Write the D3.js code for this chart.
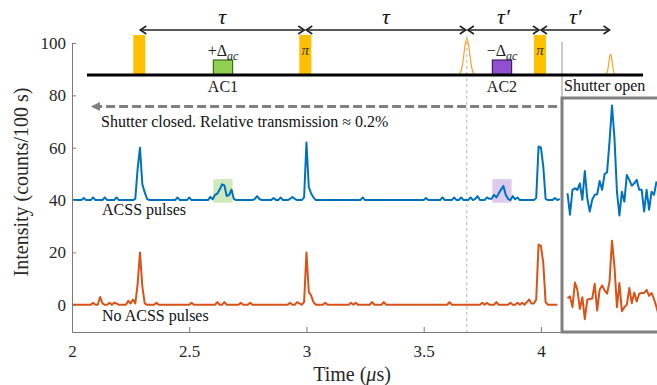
<!DOCTYPE html>
<html>
<head>
<meta charset="utf-8">
<script src="https://cdn.jsdelivr.net/npm/d3@7"></script>
<style>
  body { margin: 0; background: #fff; }
  svg { display: block; }
</style>
</head>
<body>
<svg id="chart"></svg>
<script>
const width = 657;
const height = 385;
const serif = "'Liberation Serif', 'DejaVu Serif', serif";

// main traces: one sample every 10 ns starting at 2 us
const tStart = 2.0;
const tStep = 0.01;

const acssCounts = [
  40, 40, 40, 40, 40, 40.8, 40, 40, 40, 41,
  40, 40, 40, 40, 41, 40, 40, 40, 40, 41,
  40, 40, 40, 40, 40, 40, 40, 40.5, 52, 60,
  46, 43, 40.5, 40, 40, 40, 40, 40, 40, 40,
  40, 40, 40, 40, 40, 41, 40, 40, 40, 40,
  41, 40, 40, 40, 40, 40, 40, 40, 40, 41.2,
  40.3, 42, 42.5, 44, 46, 45.6, 41.5, 42, 44, 40.5,
  40, 40, 40, 40, 40, 40, 40, 40, 40.5, 41.5,
  40.3, 40, 40, 40, 40, 40, 40.8, 40, 40, 41,
  40, 40, 40, 40.5, 41.2, 40.5, 40, 40, 40, 41,
  62, 45, 42.5, 41, 40, 40, 40, 40, 40, 40,
  40, 40, 40, 40, 40, 40, 40, 40, 40, 40,
  40, 40, 40, 40, 41, 40, 40, 40, 40, 40,
  40, 40, 40, 40, 40, 40, 40, 40, 40, 40,
  40, 40, 40, 40, 40, 40, 40, 40, 40, 40,
  40, 40.8, 40, 40, 40, 40, 40, 40, 41, 40,
  40, 40, 40, 41, 40, 40, 41, 40, 40, 40,
  41, 40, 40.5, 41.5, 40, 40, 40, 41, 40.5, 40.5,
  42, 41, 42.5, 44, 45.4, 42, 40.5, 40, 41.5, 40.3,
  41, 40, 40, 40, 40, 40, 40, 40, 40.8, 60.5,
  60, 53, 40.5, 40, 40, 40, 40.8, 40, 40.5
];

const noAcssCounts = [
  0, 0, 0, 0, 0, 0, 0, 0, 0, 0.8,
  0, 0, 3, 0.5, 0, 0, 0.8, 0, 0.8, 0.5,
  0, 0, 0, 0, 1.5, 0.5, 2, 0.5, 8, 20,
  7, 0.5, 0, 0, 0, 0, 0.8, 0, 0, 0,
  0, 0, 0, 0, 0, 0, 0, 0, 0, 0,
  0, 0.8, 0, 0, 0, 0, 0, 0, 0, 0,
  0, 0, 1, 0, 0, 1, 0, 0, 0, 0,
  0, 0, 0.8, 0, 0, 0, 0.8, 0, 0, 0,
  0, 0, 0, 0, 0, 0, 0, 0, 0, 0,
  0, 0, 0, 0.8, 0, 0, 1, 0.5, 0, 1,
  20, 5, 3.5, 1, 0, 0, 0, 0, 0.8, 0,
  0, 0, 0, 0, 0, 0, 0, 0, 0, 0.8,
  0, 0.8, 0, 0, 0, 0, 0, 0, 1, 0,
  0, 0, 0, 1, 0, 0, 0, 0, 0, 0,
  0, 0, 0, 0, 0, 0, 0, 0, 0, 0,
  0, 0, 0, 0, 0, 0, 0, 0, 0, 0,
  0, 1, 0, 0, 0, 0, 0, 0, 0, 0,
  0, 0, 0, 0, 0, 0.8, 0, 0.8, 0, 0,
  0, 1, 0, 0, 0, 0, 0, 0.8, 0, 0,
  0.8, 0, 0.8, 0, 1, 2, 0.5, 0.5, 2, 23,
  22.5, 16, 1, 0, 0, 0, 0, 0
];

// shutter open window (own time base, sample index)
const openAcss = [
  42.6, 34.4, 43.9, 44.5, 43.9, 46.4, 40.1, 51.1, 40.7, 35.6,
  40.1, 42, 42.2, 47.3, 43.9, 49.9, 50.6, 62.3, 76.1, 63.6,
  43.2, 34.1, 43.2, 39.4, 49.6, 47.7, 45.5, 46.4, 47.7, 43.9,
  43.9, 35.6, 43.9, 36.3, 43.2, 42, 47.1
];
const openNoAcss = [
  2.5, 3.2, -0.9, 8.5, 5.7, -1.6, 2.9, -5.5, 1.9, 2.2,
  2.4, 8, -2.2, 5.7, 7.4, 5.5, 4.2, 8.9, 24.5, 14.6,
  -0.9, 8.3, -2.5, -0.9, 0, 6.4, 0.6, 4.7, 1.3, 4.2,
  4.5, 4.5, 5.7, 3.4, 4.5, 2.2, -0.9, -4.5
];

const xTicks = [2, 2.5, 3, 3.5, 4];
const yTicks = [0, 20, 40, 60, 80, 100];

// pulse sequence, times in us
const squarePulseTimes = [2.287, 2.995, 3.996];
const squarePulseLabels = ['', 'π', 'π'];
const acWindowStart = [2.603, 3.793];
const acWindowEnd = [2.685, 3.875];
const acNames = ['AC1', 'AC2'];
const acSigns = ['+', '−'];
const echoTimes = [3.684, 4.297];
const echoHeights = [1, 0.58];
const echoShape = [0, 0.02, 0.08, 0.25, 0.55, 0.85, 1, 0.85, 0.55, 0.25, 0.08, 0.02, 0];
const delayStart = [2.287, 2.995, 3.684, 3.996];
const delayEnd = [2.995, 3.684, 3.996, 4.297];
const delayLabels = ['τ', 'τ', 'τ′', 'τ′'];
const shutterTime = 4.09;

const svg = d3.select('#chart').attr('width', width).attr('height', height)
  .attr('font-family', serif);

const x = d3.scaleLinear().domain([2, shutterTime]).range([72, 562]);
const y = d3.scaleLinear().domain([-10.4, 100]).range([332, 43]);
const xOpen = d3.scaleLinear().domain([0, openAcss.length - 1]).range([567.5, 656.5]);

const blue = '#0072BD';
const red = '#D95319';
const pulseOrange = '#FFC000';

function addHighlights() {
  const hl = svg.append('g').attr('class', 'highlights');
  const fills = ['#cfe9bd', '#dccbef'];
  hl.selectAll('rect')
    .data(acWindowStart)
    .enter()
    .append('rect')
    .attr('x', (d) => x(d))
    .attr('width', (d, i) => x(acWindowEnd[i]) - x(d))
    .attr('y', y(48))
    .attr('height', y(39) - y(48))
    .attr('fill', (d, i) => fills[i]);
}

function addTraces() {
  const line = d3.line()
    .x((d, i) => x(tStart + i * tStep))
    .y((d) => y(d));

  // dashed marker at the echo
  svg.append('line')
    .attr('x1', x(echoTimes[0])).attr('x2', x(echoTimes[0]))
    .attr('y1', 36).attr('y2', y.range()[0])
    .attr('stroke', '#b5b5b5')
    .attr('stroke-width', 1)
    .attr('stroke-dasharray', '3,3');

  svg.append('path').datum(acssCounts)
    .attr('d', line).attr('fill', 'none')
    .attr('stroke', blue).attr('stroke-width', 2).attr('stroke-linejoin', 'round');
  svg.append('path').datum(noAcssCounts)
    .attr('d', line).attr('fill', 'none')
    .attr('stroke', red).attr('stroke-width', 2).attr('stroke-linejoin', 'round');
}

function addAxes() {
  const yAxis = svg.append('g')
    .attr('transform', `translate(${x(2)},0)`)
    .call(d3.axisLeft(y).tickValues(yTicks).tickSize(-4).tickSizeOuter(0).tickPadding(6)
      .tickFormat((d) => String(d)));
  const xAxis = svg.append('g')
    .attr('transform', `translate(0,${y.range()[0]})`)
    .call(d3.axisBottom(x).tickValues(xTicks).tickSize(-5).tickSizeOuter(0).tickPadding(13)
      .tickFormat((d) => String(d)));

  [xAxis, yAxis].forEach((ax) => {
    ax.attr('font-family', serif).attr('font-size', 17);
    ax.select('.domain').attr('stroke', '#7a7a7a');
    ax.selectAll('.tick line').attr('stroke', '#7a7a7a');
    ax.selectAll('.tick text').attr('fill', '#262626');
  });
  xAxis.selectAll('.tick').filter((d) => d === 2).select('line').remove();

  svg.append('text')
    .attr('transform', 'translate(28,182) rotate(-90)')
    .attr('text-anchor', 'middle')
    .attr('font-size', 20)
    .attr('fill', '#262626')
    .text('Intensity (counts/100 s)');

  const xl = svg.append('text')
    .attr('x', 352).attr('y', 381)
    .attr('text-anchor', 'middle')
    .attr('font-size', 20)
    .attr('fill', '#262626');
  xl.append('tspan').text('Time (');
  xl.append('tspan').attr('font-style', 'italic').text('μ');
  xl.append('tspan').text('s)');
}

function addSequence() {
  const seq = svg.append('g').attr('class', 'sequence');
  const baseY = 75;

  // thin orange echoes
  const echoLine = d3.line().x((d) => d[0]).y((d) => d[1]).curve(d3.curveBasis);
  const echoWidths = [0.075, 0.045];
  seq.selectAll('path.echo')
    .data(echoTimes)
    .enter()
    .append('path')
    .attr('class', 'echo')
    .attr('d', (t, k) => {
      const n = echoShape.length - 1;
      const pts = echoShape.map((v, j) => [
        x(t - echoWidths[k] / 2 + (j / n) * echoWidths[k]),
        baseY - 38 * echoHeights[k] * v,
      ]);
      return echoLine(pts);
    })
    .attr('fill', 'none')
    .attr('stroke', '#f4a52a')
    .attr('stroke-width', 1.2);

  // shutter marker
  seq.append('line')
    .attr('x1', x(shutterTime)).attr('x2', x(shutterTime))
    .attr('y1', 42).attr('y2', 98)
    .attr('stroke', '#b8b8b8').attr('stroke-width', 1.5);

  // square pulses
  seq.selectAll('rect.pulse')
    .data(squarePulseTimes)
    .enter()
    .append('rect')
    .attr('class', 'pulse')
    .attr('x', (d) => x(d) - 6)
    .attr('width', 12)
    .attr('y', 35)
    .attr('height', baseY - 35)
    .attr('fill', pulseOrange);
  seq.selectAll('text.pi')
    .data(squarePulseTimes)
    .enter()
    .append('text')
    .attr('x', (d) => x(d))
    .attr('y', 55)
    .attr('text-anchor', 'middle')
    .attr('font-size', 15)
    .attr('font-style', 'italic')
    .attr('fill', '#333')
    .text((d, i) => squarePulseLabels[i]);

  // ac stark windows
  const acFill = ['#92D050', '#9150D0'];
  const acStroke = ['#3d6b22', '#3a2266'];
  seq.selectAll('rect.ac')
    .data(acWindowStart)
    .enter()
    .append('rect')
    .attr('class', 'ac')
    .attr('x', (d) => x(d))
    .attr('width', (d, i) => x(acWindowEnd[i]) - x(d))
    .attr('y', 60)
    .attr('height', baseY - 60)
    .attr('fill', (d, i) => acFill[i])
    .attr('stroke', (d, i) => acStroke[i])
    .attr('stroke-width', 1.2);

  acWindowStart.forEach((t0, i) => {
    const cx = (x(t0) + x(acWindowEnd[i])) / 2;
    const lab = seq.append('text')
      .attr('x', cx).attr('y', 56)
      .attr('text-anchor', 'middle')
      .attr('font-size', 16)
      .attr('fill', '#222');
    lab.append('tspan').text(`${acSigns[i]}Δ`);
    lab.append('tspan').attr('font-style', 'italic').attr('font-size', 12).attr('dy', 4).text('ac');
    seq.append('text')
      .attr('x', cx).attr('y', 92)
      .attr('text-anchor', 'middle')
      .attr('font-size', 16)
      .attr('fill', '#222')
      .text(acNames[i]);
  });

  // baseline
  seq.append('line')
    .attr('x1', 87).attr('x2', 643)
    .attr('y1', baseY).attr('y2', baseY)
    .attr('stroke', '#000').attr('stroke-width', 3);

  // delay arrows
  const arrowY = 30;
  const head = (px, dir) => `M${px + dir * 6},${arrowY - 4}L${px},${arrowY}L${px + dir * 6},${arrowY + 4}`;
  delayStart.forEach((t0, i) => {
    const a = x(t0) + 1;
    const b = x(delayEnd[i]) - 1;
    seq.append('line')
      .attr('x1', a).attr('x2', b).attr('y1', arrowY).attr('y2', arrowY)
      .attr('stroke', '#222').attr('stroke-width', 1.6);
    seq.append('path').attr('d', head(a, 1) + head(b, -1))
      .attr('fill', 'none').attr('stroke', '#222').attr('stroke-width', 1.6);
    seq.append('text')
      .attr('x', (a + b) / 2).attr('y', 24)
      .attr('text-anchor', 'middle')
      .attr('font-size', 22)
      .attr('font-style', 'italic')
      .attr('fill', '#111')
      .text(delayLabels[i]);
  });
}

function addShutter() {
  // closed: dashed arrow across the main window
  const ay = 106.5;
  svg.append('line')
    .attr('x1', x(2.09)).attr('x2', x(shutterTime))
    .attr('y1', ay).attr('y2', ay)
    .attr('stroke', '#808080').attr('stroke-width', 3)
    .attr('stroke-dasharray', '9,4');
  svg.append('path')
    .attr('d', `M${x(2.085) - 1},${ay}L${x(2.085) + 8},${ay - 4.5}L${x(2.085) + 8},${ay + 4.5}Z`)
    .attr('fill', '#808080');
  svg.append('text')
    .attr('x', 101).attr('y', 126.5)
    .attr('font-size', 16).attr('fill', '#111')
    .text('Shutter closed. Relative transmission ≈ 0.2%');

  svg.append('text')
    .attr('x', 564).attr('y', 91)
    .attr('font-size', 16).attr('fill', '#111')
    .text('Shutter open');

  // open: inset box with its own traces
  svg.append('defs').append('clipPath').attr('id', 'open-clip')
    .append('rect').attr('x', 563).attr('y', 99).attr('width', 100).attr('height', 232);
  const inset = svg.append('g').attr('clip-path', 'url(#open-clip)');
  const openLine = d3.line().x((d, i) => xOpen(i)).y((d) => y(d));
  inset.append('path').datum(openAcss)
    .attr('d', openLine).attr('fill', 'none')
    .attr('stroke', blue).attr('stroke-width', 2).attr('stroke-linejoin', 'round');
  inset.append('path').datum(openNoAcss)
    .attr('d', openLine).attr('fill', 'none')
    .attr('stroke', red).attr('stroke-width', 2).attr('stroke-linejoin', 'round');

  svg.append('rect')
    .attr('x', 562).attr('y', 98)
    .attr('width', 120).attr('height', y.range()[0] - 98)
    .attr('fill', 'none')
    .attr('stroke', '#808080').attr('stroke-width', 3);
}

function addTraceLabels() {
  svg.append('text').attr('x', 102).attr('y', 215)
    .attr('font-size', 16).attr('fill', '#111').text('ACSS pulses');
  svg.append('text').attr('x', 102).attr('y', 321)
    .attr('font-size', 16).attr('fill', '#111').text('No ACSS pulses');
}

addHighlights();
addTraces();
addAxes();
addSequence();
addShutter();
addTraceLabels();
</script>
</body>
</html>
